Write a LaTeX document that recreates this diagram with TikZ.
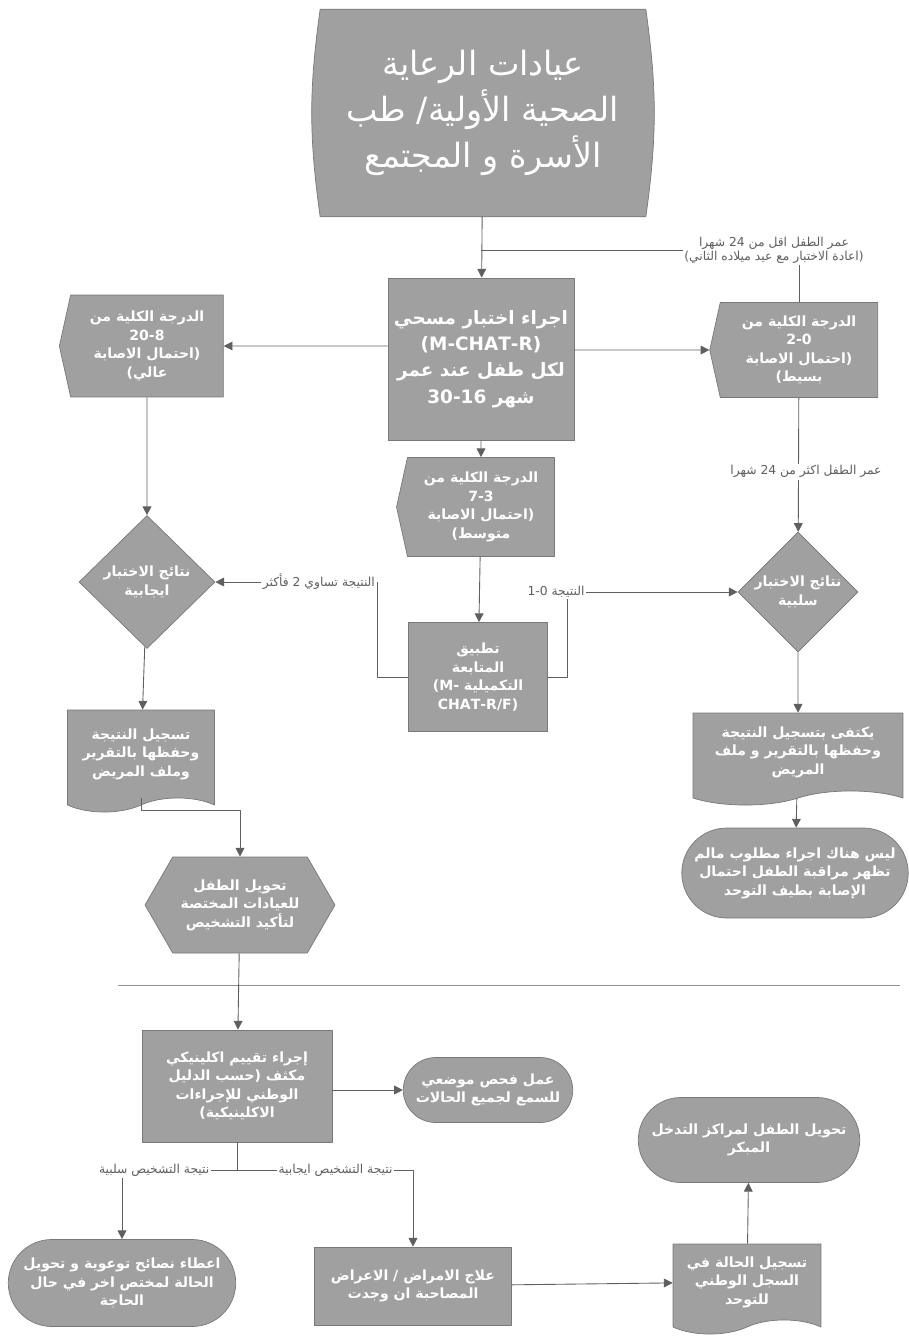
\documentclass[tikz,border=0pt]{standalone}
\usepackage{fontspec}
\setmainfont{DejaVu Sans}
\newfontfamily\arabicfont[Script=Arabic]{DejaVu Sans}
\TeXXeTstate=1
\usetikzlibrary{arrows.meta,shapes.geometric,shapes.symbols,shapes.misc,backgrounds}
\definecolor{boxfill}{RGB}{160,160,160}
\definecolor{boxedge}{RGB}{120,120,120}
\definecolor{linecol}{RGB}{95,95,95}
\newcommand\rtl[1]{\leavevmode\beginR#1\endR}
\newcommand\ltr[1]{\beginL#1\endL}

\begin{document}
\begin{tikzpicture}[x=0.02cm,y=-0.02cm,>={Triangle[width=5pt,length=5pt]},line join=round,
	shaded/.style={fill=boxfill,draw=boxedge,line width=0.4pt,text=white,align=center,inner sep=1pt},
	proc/.style={shaded,rectangle},
	score/.style={shaded,signal,signal to=west,signal pointer angle=155},
	doc/.style={shaded,tape,tape bend top=none,tape bend bottom=in and out,tape bend height=8pt},
	term/.style={shaded,rounded rectangle},
	decide/.style={shaded,diamond},
	prep/.style={shaded,signal,signal to=east and west,signal pointer angle=120},
	titletxt/.style={font=\arabicfont\fontsize{19}{26}\selectfont},
	bodytxt/.style={font=\arabicfont\bfseries\fontsize{10.5}{15}\selectfont},
	smalltxt/.style={font=\arabicfont\bfseries\fontsize{8}{10.5}\selectfont},
	lbl/.style={font=\arabicfont\fontsize{7}{8}\selectfont,text=linecol,fill=white,inner sep=1pt,align=center},
	conn/.style={draw=linecol,line width=0.5pt}]
\useasboundingbox (0,0) rectangle (909,1340);

% upper part
\node[titletxt,text=white,align=center,minimum width=6.5cm,minimum height=4.14cm] (clinics) at (483,113)
	{\rtl{عيادات الرعاية}\\\rtl{الصحية الأولية/ طب}\\\rtl{الأسرة و المجتمع}};
\begin{pgfonlayer}{background}
\fill[boxfill,draw=boxedge,line width=0.4pt] (clinics.north west) to[bend right=8] (clinics.south west)
	-- (clinics.south east) to[bend right=8] (clinics.north east) -- cycle;
\end{pgfonlayer}
\node[proc,bodytxt,minimum width=3.72cm,minimum height=3.24cm] (screen) at (481,359)
	{\rtl{اجراء اختبار مسحي}\\\ltr{(M-CHAT-R)}\\\rtl{لكل طفل عند عمر}\\\rtl{شهر \ltr{30-16}}};
\node[score,smalltxt,minimum width=3.28cm,minimum height=2.04cm] (high) at (147,346)
	{\rtl{الدرجة الكلية من}\\\ltr{20-8}\\\rtl{(احتمال الاصابة}\\\rtl{عالي)}};
\node[score,smalltxt,minimum width=3.36cm,minimum height=1.9cm] (low) at (799,350)
	{\rtl{الدرجة الكلية من}\\\ltr{2-0}\\\rtl{(احتمال الاصابة}\\\rtl{بسيط)}};
\node[score,smalltxt,minimum width=3.16cm,minimum height=1.98cm] (moderate) at (481,507)
	{\rtl{الدرجة الكلية من}\\\ltr{7-3}\\\rtl{(احتمال الاصابة}\\\rtl{متوسط)}};
\node[proc,smalltxt,minimum width=2.78cm,minimum height=2.18cm] (followup) at (478,677)
	{\rtl{تطبيق}\\\rtl{المتابعة}\\\rtl{التكميلية \ltr{(M-}}\\\ltr{CHAT-R/F)}};
\node[decide,smalltxt,minimum width=2.72cm,minimum height=2.66cm,inner sep=0pt] (posres) at (147,582)
	{\rtl{نتائج الاختبار}\\\rtl{ايجابية}};
\node[decide,smalltxt,minimum width=2.4cm,minimum height=2.4cm,inner sep=0pt] (negres) at (798,592)
	{\rtl{نتائج الاختبار}\\\rtl{سلبية}};
\node[doc,smalltxt,minimum width=2.94cm,minimum height=2.04cm] (posdoc) at (141,754)
	{\rtl{تسجيل النتيجة}\\\rtl{وحفظها بالتقرير}\\\rtl{وملف المريض}};
\node[doc,smalltxt,minimum width=4.2cm,minimum height=1.84cm] (negdoc) at (798,752)
	{\rtl{يكتفى بتسجيل النتيجة}\\\rtl{وحفظها بالتقرير و ملف}\\\rtl{المريض}};
\node[term,smalltxt,minimum width=4.6cm,minimum height=1.8cm] (nomore) at (795,873)
	{\rtl{ليس هناك اجراء مطلوب مالم}\\\rtl{تظهر مراقبة الطفل احتمال}\\\rtl{الإصابة بطيف التوحد}};
\node[prep,smalltxt,minimum width=3.8cm,minimum height=1.92cm] (refer) at (240,905)
	{\rtl{تحويل الطفل}\\\rtl{للعيادات المختصة}\\\rtl{لتأكيد التشخيص}};

\draw[conn,->] (clinics) -- (screen);
\coordinate (retest) at (481,250);
\draw[conn] (low.north) |- node[lbl,xshift=-0.5cm] (under24)
	{\rtl{عمر الطفل اقل من 24 شهرا}\\\rtl{(اعادة الاختبار مع عيد ميلاده الثاني)}} (retest);
\draw[conn,->] (screen.west|-high) -- (high);
\draw[conn,->] (screen.east|-low) -- (low);
\draw[conn,->] (screen) -- (moderate);
\draw[conn,->] (moderate) -- (followup);
\draw[conn,->] (high) -- (posres);
\draw[conn,->] (low) -- node[lbl,pos=0.55,xshift=0.15cm] (over24) {\rtl{عمر الطفل اكثر من 24 شهرا}} (negres);
\coordinate (tpos) at (377,582);
\coordinate (tneg) at (567,592);
\draw[conn,->] (followup.west) -| (tpos) -- (posres.east);
\draw[conn,->] (followup.east) -| (tneg) -- (negres.west);
\node[lbl,anchor=east] (twoplus) at (tpos) {\rtl{النتيجة تساوي 2 فأكثر}};
\node[lbl] (zeroone) at (556,592) {\rtl{النتيجة \ltr{1-0}}};
\draw[conn,->] (posres) -- (posdoc);
\draw[conn,->] (negres) -- (negdoc);
\draw[conn,->] (negdoc) -- (nomore);
\draw[conn,->] (posdoc.south) -- ++(0,12) -| (refer.north);

% lower part
\draw[draw=linecol!70,line width=0.5pt] (118,985) -- (900,985);
\node[proc,smalltxt,minimum width=3.8cm,minimum height=2.24cm] (clinical) at (237,1086)
	{\rtl{إجراء تقييم اكلينيكي}\\\rtl{مكثف (حسب الدليل}\\\rtl{الوطني للإجراءات}\\\rtl{الاكلينيكية)}};
\node[term,smalltxt,minimum width=3.46cm,minimum height=1.3cm] (hearing) at (488,1090)
	{\rtl{عمل فحص موضعي}\\\rtl{للسمع لجميع الحالات}};
\node[term,smalltxt,minimum width=4.62cm,minimum height=1.74cm] (advice) at (122,1283)
	{\rtl{اعطاء نصائح توعوية و تحويل}\\\rtl{الحالة لمختص اخر في حال}\\\rtl{الحاجة}};
\node[proc,smalltxt,minimum width=3.94cm,minimum height=1.56cm] (treat) at (413,1286)
	{\rtl{علاج الامراض / الاعراض}\\\rtl{المصاحبة ان وجدت}};
\node[doc,smalltxt,minimum width=2.96cm,minimum height=1.8cm] (register) at (747,1282)
	{\rtl{تسجيل الحالة في}\\\rtl{السجل الوطني}\\\rtl{للتوحد}};
\node[term,smalltxt,minimum width=4.5cm,minimum height=1.7cm] (early) at (749,1140)
	{\rtl{تحويل الطفل لمراكز التدخل}\\\rtl{المبكر}};

\draw[conn,->] (refer) -- (clinical);
\draw[conn,->] (clinical.east|-hearing) -- (hearing);
\coordinate (split) at (237,1170);
\draw[conn] (clinical) -- (split);
\draw[conn,->] (split) -| node[lbl,pos=0.36] (negdx) {\rtl{نتيجة التشخيص سلبية}} (advice.north);
\draw[conn,->] (split) -| node[lbl,pos=0.28] (posdx) {\rtl{نتيجة التشخيص ايجابية}} (treat.north);
\draw[conn,->] (treat) -- (register);
\draw[conn,->] (register) -- (early);
\end{tikzpicture}
\end{document}
